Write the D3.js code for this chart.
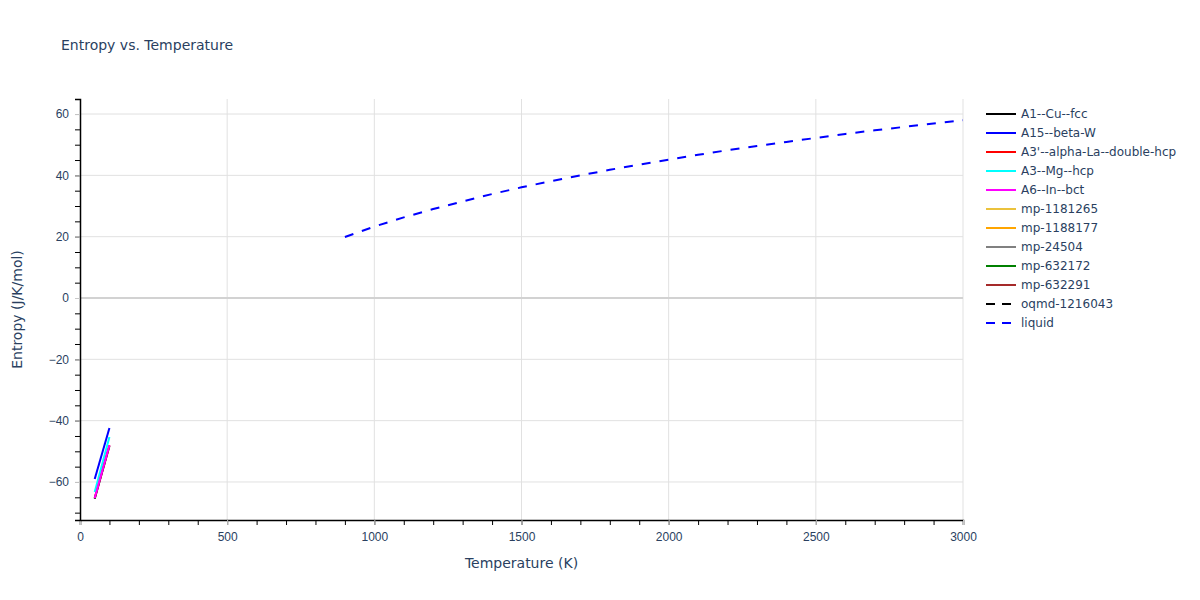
<!DOCTYPE html>
<html lang="en">
<head>
  <meta charset="UTF-8">
  <script src="https://d3js.org/d3.v7.min.js"></script>
  <style>
    body {
      margin: 0;
      padding: 0;
      background: #fff;
      font-family: "DejaVu Sans", Verdana, sans-serif;
    }
  </style>
</head>
<body>
  <script>
    // series names and colours, in legend order
    const seriesNames = ['A1--Cu--fcc', 'A15--beta-W', "A3'--alpha-La--double-hcp", 'A3--Mg--hcp', 'A6--In--bct',
      'mp-1181265', 'mp-1188177', 'mp-24504', 'mp-632172', 'mp-632291', 'oqmd-1216043', 'liquid'];
    const seriesColors = ['black', 'blue', 'red', 'cyan', 'magenta', '#ebc23c', 'orange', 'grey', 'green', 'brown', 'black', 'blue'];
    const seriesDashed = [false, false, false, false, false, false, false, false, false, false, true, true];

    // short low temperature solid phases (T in K, S in J/K/mol)
    const lowT = [50, 100];
    const cuFcc = [-65.5, -48.3];
    const betaW = [-59.0, -42.4];
    const alphaLa = [-65.2, -48.0];
    const mgHcp = [-63.3, -45.3];
    const inBct = [-65.2, -48.0];

    // liquid curve
    const liquidT = [900, 1000, 1100, 1200, 1300, 1400, 1500, 1600, 1700, 1800, 1900, 2000,
      2100, 2200, 2300, 2400, 2500, 2600, 2700, 2800, 2900, 3000];
    const liquidS = [19.9, 23.3, 26.3, 29.0, 31.5, 33.9, 36.1, 38.1, 40.0, 41.8, 43.5, 45.1,
      46.7, 48.2, 49.6, 50.9, 52.2, 53.5, 54.7, 55.8, 56.9, 58.0];

    const xTicks = [0, 500, 1000, 1500, 2000, 2500, 3000];
    const yTicks = [-60, -40, -20, 0, 20, 40, 60];

    const series = [
      { name: seriesNames[0], xs: lowT, ys: cuFcc },
      { name: seriesNames[1], xs: lowT, ys: betaW },
      { name: seriesNames[2], xs: lowT, ys: alphaLa },
      { name: seriesNames[3], xs: lowT, ys: mgHcp },
      { name: seriesNames[4], xs: lowT, ys: inBct },
      { name: seriesNames[11], xs: liquidT, ys: liquidS }
    ];

    const width = 1200, height = 600;
    const margin = { left: 80, right: 237, top: 99, bottom: 80 };
    const textColor = '#2a3f5f';

    const svg = d3.select('body').append('svg')
      .attr('width', width)
      .attr('height', height)
      .style('font-family', '"DejaVu Sans", Verdana, sans-serif');

    const x = d3.scaleLinear().domain([0, 3000]).range([margin.left, width - margin.right]);
    const y = d3.scaleLinear().domain([-72.4, 64.9]).range([height - margin.bottom, margin.top]);

    // grid
    svg.append('g').selectAll('line.vx')
      .data(xTicks.filter(d => d > 0))
      .enter().append('line')
      .attr('x1', d => x(d)).attr('x2', d => x(d))
      .attr('y1', margin.top).attr('y2', height - margin.bottom)
      .attr('stroke', '#e1e1e1').attr('stroke-width', 1);

    svg.append('g').selectAll('line.hy')
      .data(yTicks)
      .enter().append('line')
      .attr('x1', margin.left).attr('x2', width - margin.right)
      .attr('y1', d => y(d)).attr('y2', d => y(d))
      .attr('stroke', d => d === 0 ? '#d2d2d2' : '#e1e1e1')
      .attr('stroke-width', d => d === 0 ? 2 : 1);

    // x axis with minor ticks
    const xAxis = svg.append('g')
      .attr('transform', `translate(0,${height - margin.bottom})`)
      .call(d3.axisBottom(x).tickValues(d3.range(0, 3001, 100)).tickSize(5).tickFormat(''));
    xAxis.select('.domain').attr('stroke', '#000').attr('stroke-width', 1.5);
    xAxis.selectAll('.tick line').attr('stroke', '#000');

    const xMajor = svg.append('g')
      .attr('transform', `translate(0,${height - margin.bottom})`)
      .call(d3.axisBottom(x).tickValues(xTicks).tickSize(5).tickPadding(7).tickFormat(d3.format('d')));
    xMajor.select('.domain').remove();
    xMajor.selectAll('.tick line').attr('stroke', '#c8c8c8');
    xMajor.selectAll('.tick text').attr('fill', textColor).style('font-size', '12px');

    // y axis with minor ticks
    const yAxis = svg.append('g')
      .attr('transform', `translate(${margin.left},0)`)
      .call(d3.axisLeft(y).tickValues(d3.range(-70, 65, 5)).tickSize(5).tickFormat(''));
    yAxis.select('.domain').attr('stroke', '#000').attr('stroke-width', 1.5);
    yAxis.selectAll('.tick line').attr('stroke', '#000');

    const yMajor = svg.append('g')
      .attr('transform', `translate(${margin.left},0)`)
      .call(d3.axisLeft(y).tickValues(yTicks).tickSize(5).tickPadding(6)
        .tickFormat(d => d < 0 ? '\u2212' + Math.abs(d) : d));
    yMajor.select('.domain').remove();
    yMajor.selectAll('.tick line').attr('stroke', '#c8c8c8');
    yMajor.selectAll('.tick text').attr('fill', textColor).style('font-size', '12px');

    // lines
    const line = d3.line().x(d => x(d[0])).y(d => y(d[1]));
    const plot = svg.append('g');
    series.forEach(s => {
      const i = seriesNames.indexOf(s.name);
      plot.append('path')
        .datum(s.xs.map((t, k) => [t, s.ys[k]]))
        .attr('d', line)
        .attr('fill', 'none')
        .attr('stroke', seriesColors[i])
        .attr('stroke-width', 2)
        .attr('stroke-dasharray', seriesDashed[i] ? '9,9' : null);
    });

    // titles
    svg.append('text')
      .attr('x', 61).attr('y', 50)
      .attr('fill', textColor)
      .style('font-size', '14px')
      .text('Entropy vs. Temperature');

    svg.append('text')
      .attr('x', (margin.left + width - margin.right) / 2).attr('y', 568)
      .attr('text-anchor', 'middle')
      .attr('fill', textColor)
      .style('font-size', '14px')
      .text('Temperature (K)');

    svg.append('text')
      .attr('transform', `translate(22,${(margin.top + height - margin.bottom) / 2}) rotate(-90)`)
      .attr('text-anchor', 'middle')
      .attr('fill', textColor)
      .style('font-size', '14px')
      .text('Entropy (J/K/mol)');

    // legend
    const legend = svg.append('g').attr('transform', 'translate(986,114)');
    seriesNames.forEach((name, i) => {
      const g = legend.append('g').attr('transform', `translate(0,${i * 19})`);
      g.append('line')
        .attr('x1', 0).attr('x2', 30)
        .attr('stroke', seriesColors[i])
        .attr('stroke-width', 2)
        .attr('stroke-dasharray', seriesDashed[i] ? '9,7' : null);
      g.append('text')
        .attr('x', 35).attr('y', 4)
        .attr('fill', textColor)
        .style('font-size', '12px')
        .text(name);
    });
  </script>
</body>
</html>
